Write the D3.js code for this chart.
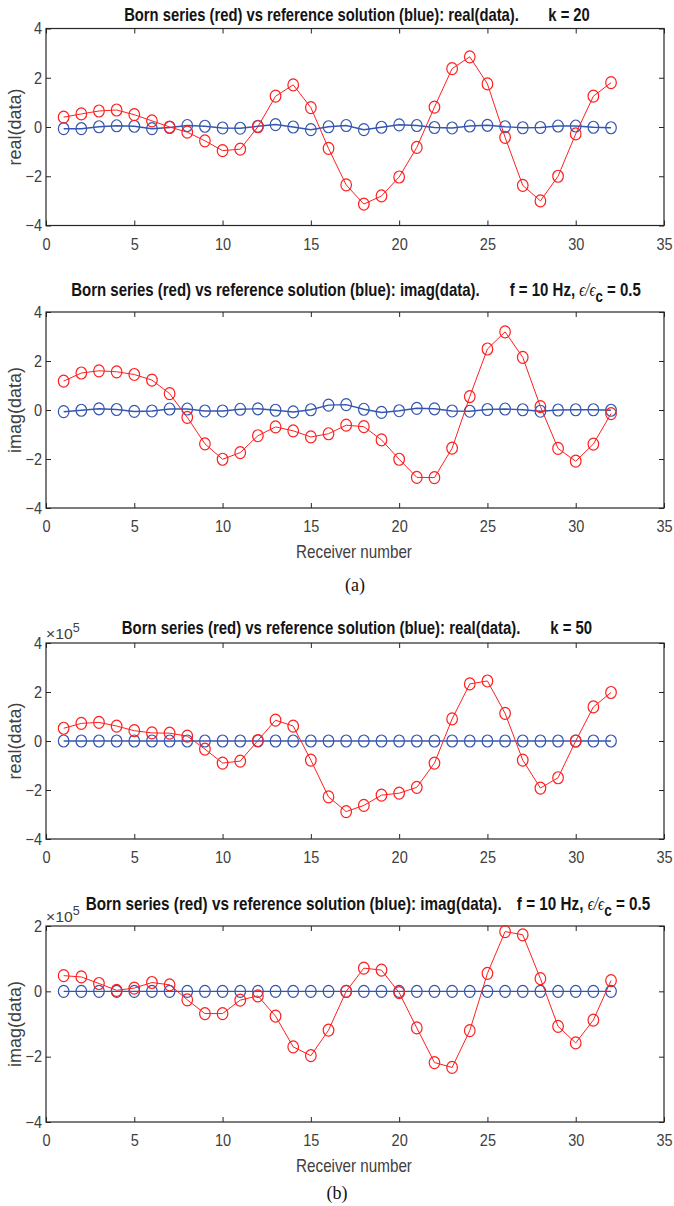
<!DOCTYPE html>
<html><head><meta charset="utf-8">
<script src="https://cdn.jsdelivr.net/npm/d3@7"></script>
<style>
html,body{margin:0;padding:0;background:#fff;}
svg{display:block;}
</style>
</head><body>
<svg id="chart" width="674" height="1206"></svg>
<script>
// ---------------- data ----------------
const receivers = [1,2,3,4,5,6,7,8,9,10,11,12,13,14,15,16,17,18,19,20,21,22,23,24,25,26,27,28,29,30,31,32];
const xTicks = [0,5,10,15,20,25,30,35];

// (a) k = 20, real part
const bornRealA = [0.40,0.53,0.65,0.69,0.50,0.25,0.00,-0.21,-0.56,-0.96,-0.90,0.01,1.25,1.71,0.79,-0.87,-2.35,-3.13,-2.80,-2.03,-0.83,0.81,2.37,2.85,1.75,-0.42,-2.37,-3.00,-2.00,-0.28,1.25,1.80];
const refRealA  = [-0.07,-0.07,0.01,0.05,0.03,-0.07,-0.02,0.06,0.03,-0.04,-0.05,0.03,0.10,0.00,-0.11,0.01,0.06,-0.11,-0.01,0.09,0.06,-0.02,-0.04,0.04,0.07,0.01,-0.03,-0.02,0.04,0.04,-0.01,-0.03];
// (a) f = 10 Hz, imaginary part
const bornImagA = [1.18,1.51,1.60,1.56,1.45,1.22,0.67,-0.30,-1.38,-2.01,-1.74,-1.05,-0.69,-0.85,-1.10,-0.97,-0.62,-0.68,-1.22,-2.01,-2.75,-2.76,-1.56,0.55,2.49,3.19,2.15,0.14,-1.57,-2.09,-1.39,-0.15];
const refImagA  = [-0.07,-0.01,0.05,0.02,-0.06,-0.04,0.04,0.04,-0.04,-0.04,0.03,0.05,-0.01,-0.08,0.01,0.20,0.22,0.03,-0.10,-0.03,0.07,0.05,-0.04,-0.05,0.02,0.04,0.01,-0.05,0.00,0.01,0.01,-0.01];
// (b) k = 50, real part (x 1e5)
const bornRealB = [0.52,0.72,0.76,0.61,0.42,0.33,0.32,0.20,-0.33,-0.90,-0.82,0.02,0.85,0.61,-0.78,-2.28,-2.88,-2.63,-2.21,-2.13,-1.89,-0.90,0.90,2.33,2.45,1.13,-0.78,-1.92,-1.50,0.00,1.39,1.98];
const refRealB  = [0,0,0,0,0,0,0,0,0,0,0,0,0,0,0,0,0,0,0,0,0,0,0,0,0,0,0,0,0,0,0,0];
// (b) f = 10 Hz, imaginary part (x 1e5)
const bornImagB = [0.48,0.44,0.24,0.03,0.10,0.27,0.20,-0.26,-0.68,-0.68,-0.27,-0.14,-0.76,-1.70,-1.97,-1.19,0.00,0.71,0.65,-0.04,-1.12,-2.18,-2.33,-1.20,0.55,1.83,1.73,0.39,-1.07,-1.58,-0.88,0.33];
const refImagB  = [0,0,0,0,0,0,0,0,0,0,0,0,0,0,0,0,0,0,0,0,0,0,0,0,0,0,0,0,0,0,0,0];

const yTicksA = [-4,-2,0,2,4];
const yTicksB4 = [-4,-2,0,2];

const titleBase = "Born series (red) vs reference solution (blue): ";

// ---------------- layout ----------------
const svg = d3.select("#chart");
const LEFT = 46, RIGHT = 664;
const RED = "#ff1f1f", BLUE = "#3556b0", AX = "#262626", LBL = "#404040";
const FONT = "'Liberation Sans', Arial, Helvetica, sans-serif";

const panels = [
  {top:28.5, bottom:225.5, yDomain:[-4,4], yTicks:yTicksA, born:bornRealA, ref:refRealA, ylabel:"real(data)",
   title:{main:titleBase+"real(data).", tail:"k = 20", gap:"\u2003\u2003", eps:false}, tcx:357, tcy:15, tw:466, xlabel:false, exp:false},
  {top:312, bottom:508, yDomain:[-4,4], yTicks:yTicksA, born:bornImagA, ref:refImagA, ylabel:"imag(data)",
   title:{main:titleBase+"imag(data).", tail:"f = 10 Hz, ", gap:"\u2003\u2003", eps:true}, tcx:356, tcy:290, tw:570, xlabel:true, exp:false},
  {top:643, bottom:839, yDomain:[-4,4], yTicks:yTicksA, born:bornRealB, ref:refRealB, ylabel:"real(data)",
   title:{main:titleBase+"real(data).", tail:"k = 50", gap:"\u2003\u2003", eps:false}, tcx:357, tcy:628, tw:471, xlabel:false, exp:true},
  {top:926, bottom:1122, yDomain:[-4,2], yTicks:yTicksB4, born:bornImagB, ref:refImagB, ylabel:"imag(data)",
   title:{main:titleBase+"imag(data).", tail:"f = 10 Hz, ", gap:"\u2003", eps:true}, tcx:368, tcy:904, tw:565, xlabel:true, exp:true}
];

function fitX(node, cx, target){
  const w = node.getBBox().width;
  if (w > 0) d3.select(node).attr("transform", `translate(${cx},0) scale(${target/w},1) translate(${-cx},0)`);
}

const x = d3.scaleLinear().domain([0,35]).range([LEFT, RIGHT]);

panels.forEach(p => {
  const y = d3.scaleLinear().domain(p.yDomain).range([p.bottom, p.top]);
  const g = svg.append("g");

  const styleAxis = sel => {
    sel.select(".domain").remove();
    sel.selectAll(".tick line").attr("stroke", AX);
    sel.selectAll(".tick text").attr("fill", LBL).attr("font-family", FONT).attr("font-size", 16.5);
  };
  g.append("g").attr("transform", `translate(0,${p.bottom})`)
    .call(d3.axisBottom(x).tickValues(xTicks).tickSizeInner(-5).tickSizeOuter(0).tickPadding(12.5).tickFormat(d3.format("d")))
    .call(styleAxis)
    .call(s => s.selectAll(".tick text").attr("transform", "scale(0.88,1)"));
  g.append("g").attr("transform", `translate(0,${p.top})`)
    .call(d3.axisTop(x).tickValues(xTicks).tickSizeInner(-5).tickSizeOuter(0).tickFormat(""))
    .call(styleAxis);
  g.append("g").attr("transform", `translate(${LEFT},0)`)
    .call(d3.axisLeft(y).tickValues(p.yTicks).tickSizeInner(-5).tickSizeOuter(0).tickPadding(4.5).tickFormat(d3.format("d")))
    .call(styleAxis)
    .call(s => s.selectAll(".tick text").attr("transform", "scale(0.88,1)"));
  g.append("g").attr("transform", `translate(${RIGHT},0)`)
    .call(d3.axisRight(y).tickValues(p.yTicks).tickSizeInner(-5).tickSizeOuter(0).tickFormat(""))
    .call(styleAxis);

  g.append("rect").attr("x", LEFT).attr("y", p.top).attr("width", RIGHT-LEFT).attr("height", p.bottom-p.top)
    .attr("fill", "none").attr("stroke", AX).attr("stroke-width", 1.2);

  const line = d3.line().x((d,i) => x(receivers[i])).y(d => y(d));
  const drawSeries = (vals, col, sw) => {
    g.append("path").datum(vals).attr("d", line).attr("fill", "none").attr("stroke", col).attr("stroke-width", sw);
    g.append("g").selectAll("ellipse").data(vals).join("ellipse")
      .attr("cx", (d,i) => x(receivers[i])).attr("cy", d => y(d))
      .attr("rx", 5.3).attr("ry", 6.0)
      .attr("fill", "none").attr("stroke", col).attr("stroke-width", 1.2);
  };
  drawSeries(p.ref, BLUE, 1.4);
  drawSeries(p.born, RED, 1);

  // title
  const t = g.append("text").attr("x", p.tcx).attr("y", p.tcy + 6.5).attr("text-anchor", "middle")
    .attr("font-family", FONT).attr("font-weight", "bold").attr("font-size", 18).attr("fill", "#141414");
  t.append("tspan").text(p.title.main + p.title.gap + p.title.tail).attr("xml:space","preserve");
  if (p.title.eps) {
    t.append("tspan").text("\u03f5/\u03f5").attr("font-style", "italic").attr("font-weight", "normal").attr("font-family", "'Liberation Serif', 'DejaVu Serif', serif");
    t.append("tspan").text("c").attr("dy", 6).attr("font-size", 16);
    t.append("tspan").text(" = 0.5").attr("dy", -6);
  }
  fitX(t.node(), p.tcx, p.tw);

  // y label
  g.append("text").attr("transform", `translate(21,${(p.top+p.bottom)/2}) rotate(-90)`)
    .attr("text-anchor", "middle").attr("font-family", FONT).attr("font-size", 18).attr("fill", LBL)
    .text(p.ylabel);

  if (p.exp) {
    const e = g.append("text").attr("x", LEFT).attr("y", p.top - 4).attr("font-family", FONT)
      .attr("font-size", 15).attr("fill", LBL);
    e.append("tspan").text("\u00d710");
    e.append("tspan").text("5").attr("font-size", 12).attr("dy", -7);
    fitX(e.node(), LEFT, 34);
  }

  if (p.xlabel) {
    const xl = g.append("text").attr("x", 354).attr("y", p.bottom + 50).attr("text-anchor", "middle")
      .attr("font-family", FONT).attr("font-size", 18).attr("fill", LBL).text("Receiver number");
    fitX(xl.node(), 354, 116);
  }
});

svg.append("text").attr("x", 355).attr("y", 591).attr("text-anchor", "middle")
  .attr("font-family", "'Liberation Serif', 'Times New Roman', serif").attr("font-size", 18).attr("fill", "#111").text("(a)");
svg.append("text").attr("x", 337).attr("y", 1199).attr("text-anchor", "middle")
  .attr("font-family", "'Liberation Serif', 'Times New Roman', serif").attr("font-size", 18).attr("fill", "#111").text("(b)");
</script>
</body></html>
